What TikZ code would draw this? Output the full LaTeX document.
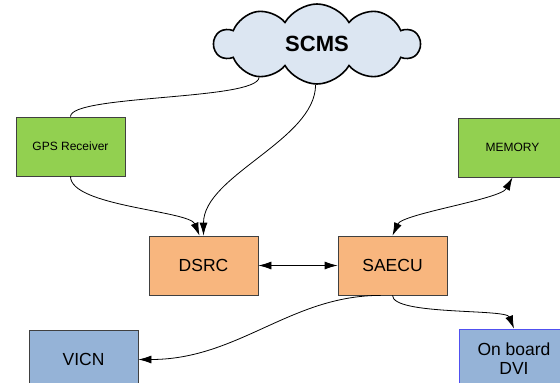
\documentclass[tikz,border=0pt]{standalone}
\usepackage{fontspec}
\setmainfont{Liberation Sans}
\usepackage{tikz}
\usetikzlibrary{arrows.meta, shapes.symbols}

\definecolor{gpsgreen}{RGB}{146,208,80}
\definecolor{unitorange}{RGB}{248,182,126}
\definecolor{busblue}{RGB}{149,179,215}
\definecolor{cloudblue}{RGB}{220,230,242}
\definecolor{dviedge}{RGB}{80,80,240}

\begin{document}
\begin{tikzpicture}[x=1pt, y=-1pt, >={Latex[length=13pt, width=8pt]},
    unit/.style={draw=black!75, line width=0.8pt, minimum width=109pt, minimum height=59pt,
        inner sep=0pt, align=center, font=\fontsize{17.5}{19}\selectfont},
    small/.style={unit, font=\fontsize{12}{14}\selectfont},
    link/.style={line width=0.8pt}]
    \path[use as bounding box, clip] (0,0) rectangle (560,383);

    % cloud on top
    \node[cloud, cloud puffs=10, cloud puff arc=120, cloud ignores aspect, draw, line width=1.6pt,
        fill=cloudblue, minimum width=205pt, minimum height=80pt,
        font=\bfseries\fontsize{22}{24}\selectfont] (scms) at (317,44) {SCMS};

    % boxes
    \node[small, fill=gpsgreen] (gps) at (70.5,146.5) {GPS Receiver};
    \node[small, fill=gpsgreen] (memory) at (512.5,147.5) {MEMORY};
    \node[unit, fill=unitorange] (dsrc) at (203.5,265.5) {DSRC};
    \node[unit, fill=unitorange] (saecu) at (392.5,265.5) {SAECU};
    \node[unit, fill=busblue] (vicn) at (83.5,359.5) {VICN};
    \node[unit, fill=busblue, draw=dviedge] (dvi) at (514,358.5) {On board\\DVI};

    % links
    \draw[link] (gps.north) .. controls +(0,-22) and +(-2,23) .. (scms.210);
    \draw[link, ->] (scms.268) .. controls +(0,55) and +(0,-60) .. (dsrc.north);
    \draw[link, ->] (gps.south) .. controls +(0,30) and +(-10,-25) .. ([xshift=-4pt]dsrc.north);
    \draw[link, <->] (dsrc.east) -- (saecu.west);
    \draw[link, <->] (saecu.north) .. controls +(10,-22) and +(-12,22) .. (memory.south);
    \draw[link, ->] ([xshift=-12pt]saecu.south) .. controls +(-90,0) and +(100,0) .. (vicn.east);
    \draw[link, ->] (saecu.south) .. controls +(0,20) and +(-8,-20) .. (dvi.north);
\end{tikzpicture}
\end{document}
